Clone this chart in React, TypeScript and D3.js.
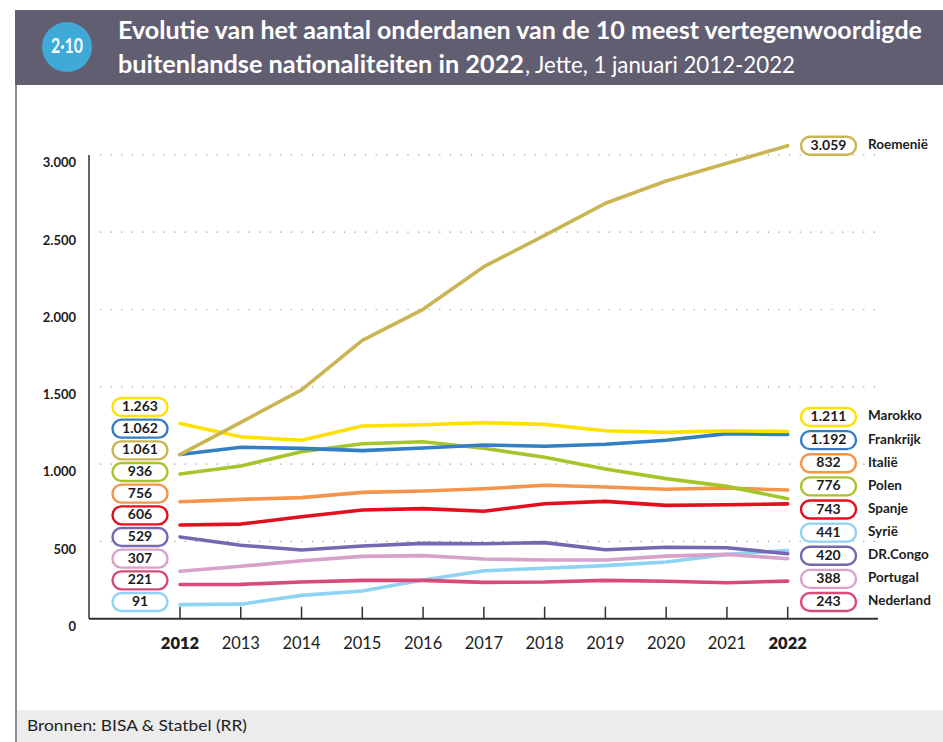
import React from 'react';
import * as d3 from 'd3';

/* ── data (Jette, 1 januari) ── */
const years = [2012, 2013, 2014, 2015, 2016, 2017, 2018, 2019, 2020, 2021, 2022];

const roemenie  = [1061, 1270, 1480, 1800, 2001, 2277, 2480, 2687, 2831, 2946, 3059];
const marokko   = [1263, 1177, 1154, 1246, 1255, 1268, 1257, 1216, 1205, 1216, 1211];
const frankrijk = [1062, 1109, 1102, 1087, 1104, 1124, 1115, 1128, 1154, 1197, 1192];
const polen     = [936, 988, 1080, 1132, 1145, 1102, 1044, 968, 906, 856, 776];
const italie    = [756, 772, 783, 817, 826, 841, 863, 852, 837, 845, 832];
const spanje    = [606, 612, 660, 703, 712, 695, 744, 759, 733, 737, 743];
const drcongo   = [529, 475, 444, 470, 487, 485, 492, 446, 462, 459, 420];
const portugal  = [307, 339, 375, 403, 408, 386, 380, 380, 405, 416, 388];
const nederland = [221, 222, 237, 248, 248, 235, 237, 248, 242, 233, 243];
const syrie     = [91, 94, 151, 179, 250, 310, 326, 343, 367, 416, 441];

const yTicks = [0, 500, 1000, 1500, 2000, 2500, 3000];

type Series = { name: string; values: number[]; color: string };

// drawing order (last on top)
const series: Series[] = [
  { name: 'Syrië', values: syrie, color: '#8fd3f4' },
  { name: 'Nederland', values: nederland, color: '#d94b77' },
  { name: 'Portugal', values: portugal, color: '#d7a1c9' },
  { name: 'DR.Congo', values: drcongo, color: '#7668b0' },
  { name: 'Spanje', values: spanje, color: '#e30f1c' },
  { name: 'Italië', values: italie, color: '#f4954b' },
  { name: 'Polen', values: polen, color: '#a6c52a' },
  { name: 'Frankrijk', values: frankrijk, color: '#347fc3' },
  { name: 'Marokko', values: marokko, color: '#ffe100' },
  { name: 'Roemenië', values: roemenie, color: '#cbb553' },
];

const byName = (n: string) => series.find(s => s.name === n)!;
const leftOrder = ['Marokko', 'Frankrijk', 'Roemenië', 'Polen', 'Italië', 'Spanje', 'DR.Congo', 'Portugal', 'Nederland', 'Syrië'];
const rightOrder = ['Marokko', 'Frankrijk', 'Italië', 'Polen', 'Spanje', 'Syrië', 'DR.Congo', 'Portugal', 'Nederland'];

const nl = d3.formatLocale({ decimal: ',', thousands: '.', grouping: [3], currency: ['€', ''] });
const fmt = nl.format(',d');

const FONT = 'Lato, "Open Sans", sans-serif';

/* pill-shaped value label */
function Pill({ cx, cy, color, text }: { cx: number; cy: number; color: string; text: string }) {
  const w = 55, h = 18;
  return (
    <g>
      <rect x={cx - w / 2} y={cy - h / 2} width={w} height={h} rx={h / 2}
        fill="#fff" stroke={color} strokeWidth={2.4} />
      <text x={cx} y={cy + 0.5} textAnchor="middle" dominantBaseline="middle"
        fontFamily={FONT} fontSize={14} fontWeight={700} fill="#1c1c1c">{text}</text>
    </g>
  );
}

export default function App() {
  const W = 943, H = 742;

  const x = d3.scaleLinear().domain([2012, 2022]).range([180, 787.7]);
  const y = d3.scaleLinear().domain([0, 3000]).range([618.7, 154.9]);
  const line = d3.line<number>().x((_, i) => x(years[i])).y(d => y(d));

  const leftSlot = d3.scalePoint<string>().domain(leftOrder).range([407, 602]);
  const rightSlot = d3.scalePoint<string>().domain(rightOrder).range([417, 602]);

  const xAxisY = y(0);

  return (
    <svg width={W} height={H} viewBox={`0 0 ${W} ${H}`}
      style={{ position: 'absolute', left: 0, top: 0, background: '#fff' }}>
      {/* header */}
      <rect x={15} y={10} width={W - 15} height={75} fill="#625e72" />
      <circle cx={67} cy={47} r={25} fill="#3fa9d7" />
      <text x={67} y={48} textAnchor="middle" dominantBaseline="middle" fill="#fff"
        fontFamily={FONT} fontWeight={700} fontSize={20}
        textLength={32} lengthAdjust="spacingAndGlyphs">2·10</text>
      <text x={118} y={39} fill="#fff" fontFamily={FONT} fontWeight={700} fontSize={24}
        textLength={804} lengthAdjust="spacingAndGlyphs">
        Evolutie van het aantal onderdanen van de 10 meest vertegenwoordigde
      </text>
      <text x={118} y={73} fill="#fff" fontFamily={FONT} fontWeight={700} fontSize={24}
        textLength={406} lengthAdjust="spacingAndGlyphs">
        buitenlandse nationaliteiten in 2022
      </text>
      <text x={525} y={73} fill="#fff" fontFamily={FONT} fontWeight={400} fontSize={24}
        textLength={270} lengthAdjust="spacingAndGlyphs">
        , Jette, 1 januari 2012-2022
      </text>

      {/* left frame line */}
      <line x1={16} x2={16} y1={85} y2={H} stroke="#8b8a99" strokeWidth={2} />

      {/* footer */}
      <rect x={17} y={710} width={W - 17} height={32} fill="#ececec" />
      <text x={27} y={731} fontFamily={FONT} fontSize={16} fill="#222"
        textLength={220} lengthAdjust="spacingAndGlyphs">Bronnen: BISA &amp; Statbel (RR)</text>

      {/* gridlines */}
      {yTicks.filter(t => t > 0).map(t => (
        <line key={t} x1={100} x2={878} y1={y(t)} y2={y(t)}
          stroke="#9a9a9a" strokeWidth={1.2} strokeDasharray="1.2 9.4" />
      ))}

      {/* y axis */}
      <line x1={89} x2={89} y1={y(3000)} y2={xAxisY} stroke="#333" strokeWidth={1.5} />
      {yTicks.map(t => (
        <text key={t} x={76} y={y(t) + 9} textAnchor="end" dominantBaseline="middle"
          fontFamily={FONT} fontWeight={700} fontSize={13} fill="#1c1c1c">{fmt(t)}</text>
      ))}

      {/* x axis */}
      <line x1={89} x2={878} y1={xAxisY} y2={xAxisY} stroke="#333" strokeWidth={2} />
      {years.map(yr => (
        <g key={yr}>
          <line x1={x(yr)} x2={x(yr)} y1={xAxisY} y2={xAxisY - 12} stroke="#333" strokeWidth={1.5} />
          <text x={x(yr)} y={645} textAnchor="middle" dominantBaseline="middle"
            fontFamily={FONT} fontSize={16.5}
            fontWeight={yr === 2012 || yr === 2022 ? 800 : 400} fill="#1c1c1c">{yr}</text>
        </g>
      ))}

      {/* lines */}
      {series.map(s => (
        <path key={s.name} d={line(s.values) || ''} fill="none" stroke={s.color}
          strokeWidth={3.6} strokeLinejoin="round" strokeLinecap="round" />
      ))}

      {/* left labels (2012) */}
      {leftOrder.map(n => {
        const s = byName(n);
        return <Pill key={n} cx={140} cy={leftSlot(n)!} color={s.color} text={fmt(s.values[0])} />;
      })}

      {/* right labels (2022) */}
      {[...rightOrder.map(n => ({ n, cy: rightSlot(n)! })), { n: 'Roemenië', cy: y(roemenie[10]) }].map(({ n, cy }) => {
        const s = byName(n);
        return (
          <g key={n}>
            <Pill cx={828.5} cy={cy} color={s.color} text={fmt(s.values[s.values.length - 1])} />
            <text x={868} y={cy} dominantBaseline="middle" fontFamily={FONT} fontWeight={700}
              fontSize={13.5} fill="#1c1c1c">{n}</text>
          </g>
        );
      })}
    </svg>
  );
}
